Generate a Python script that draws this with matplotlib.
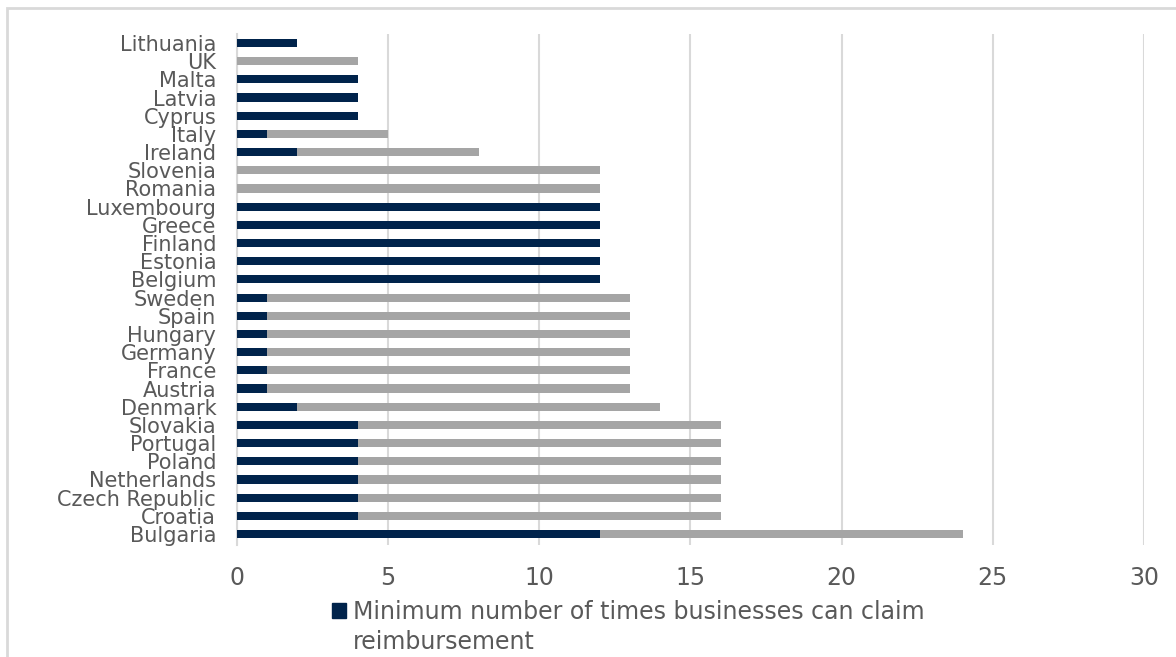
import matplotlib
matplotlib.use("Agg")
import matplotlib.pyplot as plt
from matplotlib.patches import Rectangle, Patch

countries = ["Bulgaria", "Croatia", "Czech Republic", "Netherlands", "Poland",
             "Portugal", "Slovakia", "Denmark", "Austria", "France", "Germany",
             "Hungary", "Spain", "Sweden", "Belgium", "Estonia", "Finland",
             "Greece", "Luxembourg", "Romania", "Slovenia", "Ireland", "Italy",
             "Cyprus", "Latvia", "Malta", "UK", "Lithuania"]
minimum = [12, 4, 4, 4, 4, 4, 4, 2, 1, 1, 1, 1, 1, 1,
           12, 12, 12, 12, 12, 0, 0, 2, 1, 4, 4, 4, 0, 2]
additional = [12, 12, 12, 12, 12, 12, 12, 12, 12, 12, 12, 12, 12, 12,
              0, 0, 0, 0, 0, 12, 12, 6, 4, 0, 0, 0, 4, 0]
legend_lines = ["Minimum number of times businesses can claim", "reimbursement"]

navy = "#00234B"
grey = "#A5A5A5"
text_col = "#595959"

fig = plt.figure(figsize=(11.76, 6.57), dpi=100)
ax = fig.add_axes([0.2015, 0.1705, 0.7713, 0.778])

y = range(len(countries))
ax.barh(y, minimum, height=0.45, color=navy, zorder=3)
ax.barh(y, additional, left=minimum, height=0.45, color=grey, zorder=3)

ax.set_xlim(0, 30)
ax.set_ylim(-0.6, len(countries) - 0.5)
ax.set_xticks(range(0, 31, 5))
ax.set_yticks(list(y))
ax.set_yticklabels(countries)
ax.tick_params(axis="y", length=0, pad=15, labelsize=15, labelcolor=text_col)
ax.tick_params(axis="x", length=0, pad=15, labelsize=17, labelcolor=text_col)
ax.grid(axis="x", color="#D9D9D9", linewidth=1.5, zorder=0)
for s in ["top", "right", "bottom"]:
    ax.spines[s].set_visible(False)
ax.spines["left"].set_color("#D9D9D9")
ax.spines["left"].set_linewidth(1.5)

# legend: square handle next to the first line, second line wrapped below
leg = fig.legend(handles=[Patch(color=navy)], labels=[legend_lines[0]],
                 loc="center left", bbox_to_anchor=(0.282, 0.069), frameon=False,
                 fontsize=17, labelcolor=text_col, handlelength=0.6,
                 handleheight=0.6, handletextpad=0.3, borderpad=0,
                 borderaxespad=0)
fig.canvas.draw()
bb = leg.get_texts()[0].get_window_extent()
fig.text(bb.x0 / fig.bbox.width, 0.069 - 30 / 657, legend_lines[1],
         fontsize=17, color=text_col, va="center", ha="left")

# outer chart border, cropped at right and bottom like the source image
fig.patches.append(Rectangle((7 / 1176, -0.1), 1.2, 1 - 8 / 657 + 0.1,
                             transform=fig.transFigure, fill=False,
                             edgecolor="#D9D9D9", linewidth=2))

fig.savefig("out.png", dpi=100)
